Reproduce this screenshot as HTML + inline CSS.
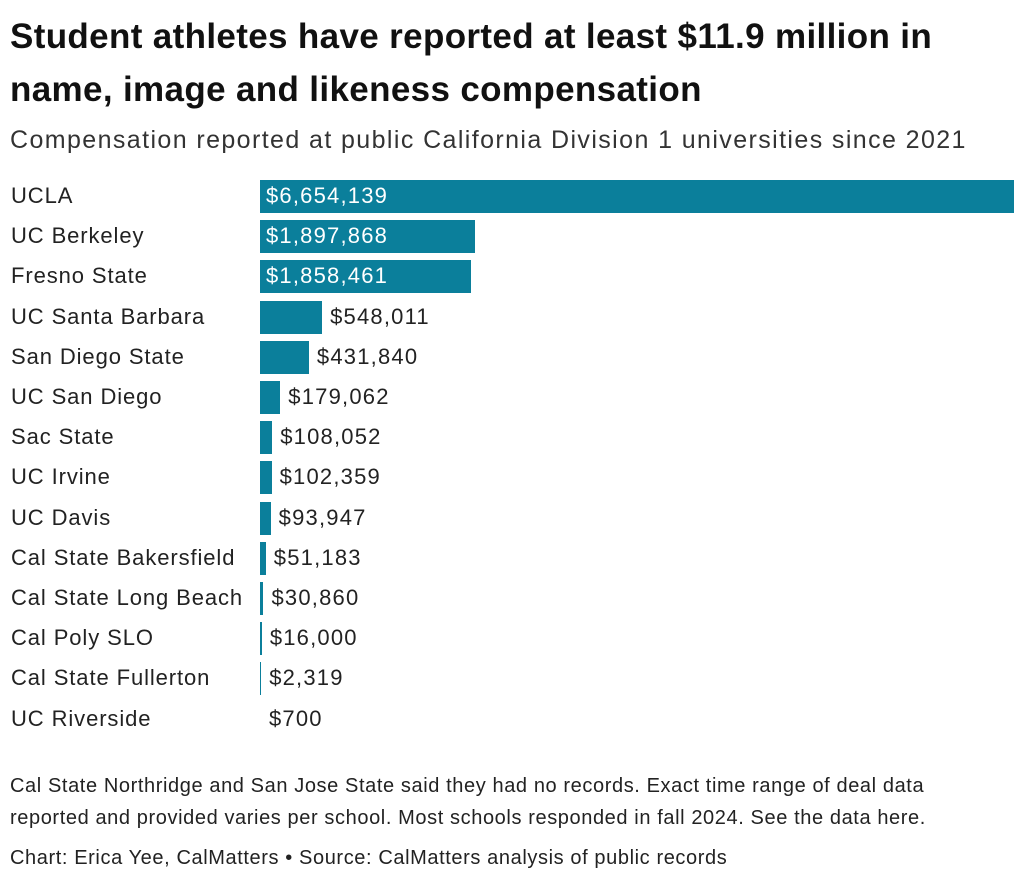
<!DOCTYPE html>
<html><head><meta charset="utf-8"><style>
body{margin:0;width:1024px;height:883px;background:#fff;font-family:"Liberation Sans",sans-serif;color:#222;position:relative;overflow:hidden}
.a{position:absolute;white-space:nowrap}
h1{position:absolute;left:10px;top:10px;margin:0;font-size:35px;line-height:53px;font-weight:bold;color:#111;letter-spacing:0.35px}
.sub{left:10px;top:126px;font-size:25px;color:#333;letter-spacing:1.4px}
.lab{left:11px;font-size:22px;color:#222;letter-spacing:0.9px}
.bar{left:260px;height:33px;background:#0b7f9b}
.val{font-size:22px;color:#222;letter-spacing:1.2px}
.in{color:#fff}
.foot{left:10px;font-size:20px;color:#222;line-height:32px;letter-spacing:0.6px}
</style></head><body>
<h1>Student athletes have reported at least $11.9 million in<br>name, image and likeness compensation</h1>
<div class="a sub">Compensation reported at public California Division 1 universities since 2021</div>
<div id="c"></div>
<div class="a foot" style="top:770px">Cal State Northridge and San Jose State said they had no records. Exact time range of deal data<br>reported and provided varies per school. Most schools responded in fall 2024. See the data here.</div>
<div class="a foot" style="top:842px">Chart: Erica Yee, CalMatters • Source: CalMatters analysis of public records</div>
<script>
var d=[["UCLA",6654139],["UC Berkeley",1897868],["Fresno State",1858461],["UC Santa Barbara",548011],["San Diego State",431840],["UC San Diego",179062],["Sac State",108052],["UC Irvine",102359],["UC Davis",93947],["Cal State Bakersfield",51183],["Cal State Long Beach",30860],["Cal Poly SLO",16000],["Cal State Fullerton",2319],["UC Riverside",700]];
var h="";
d.forEach(function(r,i){
 var top=180+i*40.2, w=r[1]/6654139*754; if(w<1&&r[1]>1000)w=1.2; if(r[1]<1000)w=0;
 var s="$"+r[1].toLocaleString("en-US");
 h+='<div class="a lab" style="top:'+(top+3)+'px">'+r[0]+'</div>';
 if(w>0) h+='<div class="a bar" style="top:'+top+'px;width:'+w+'px"></div>';
 if(w>150) h+='<div class="a val in" style="left:266px;top:'+(top+3)+'px">'+s+'</div>';
 else h+='<div class="a val" style="left:'+(260+Math.max(w,1)+8)+'px;top:'+(top+3)+'px">'+s+'</div>';
});
document.getElementById("c").innerHTML=h;
</script>
</body></html>
